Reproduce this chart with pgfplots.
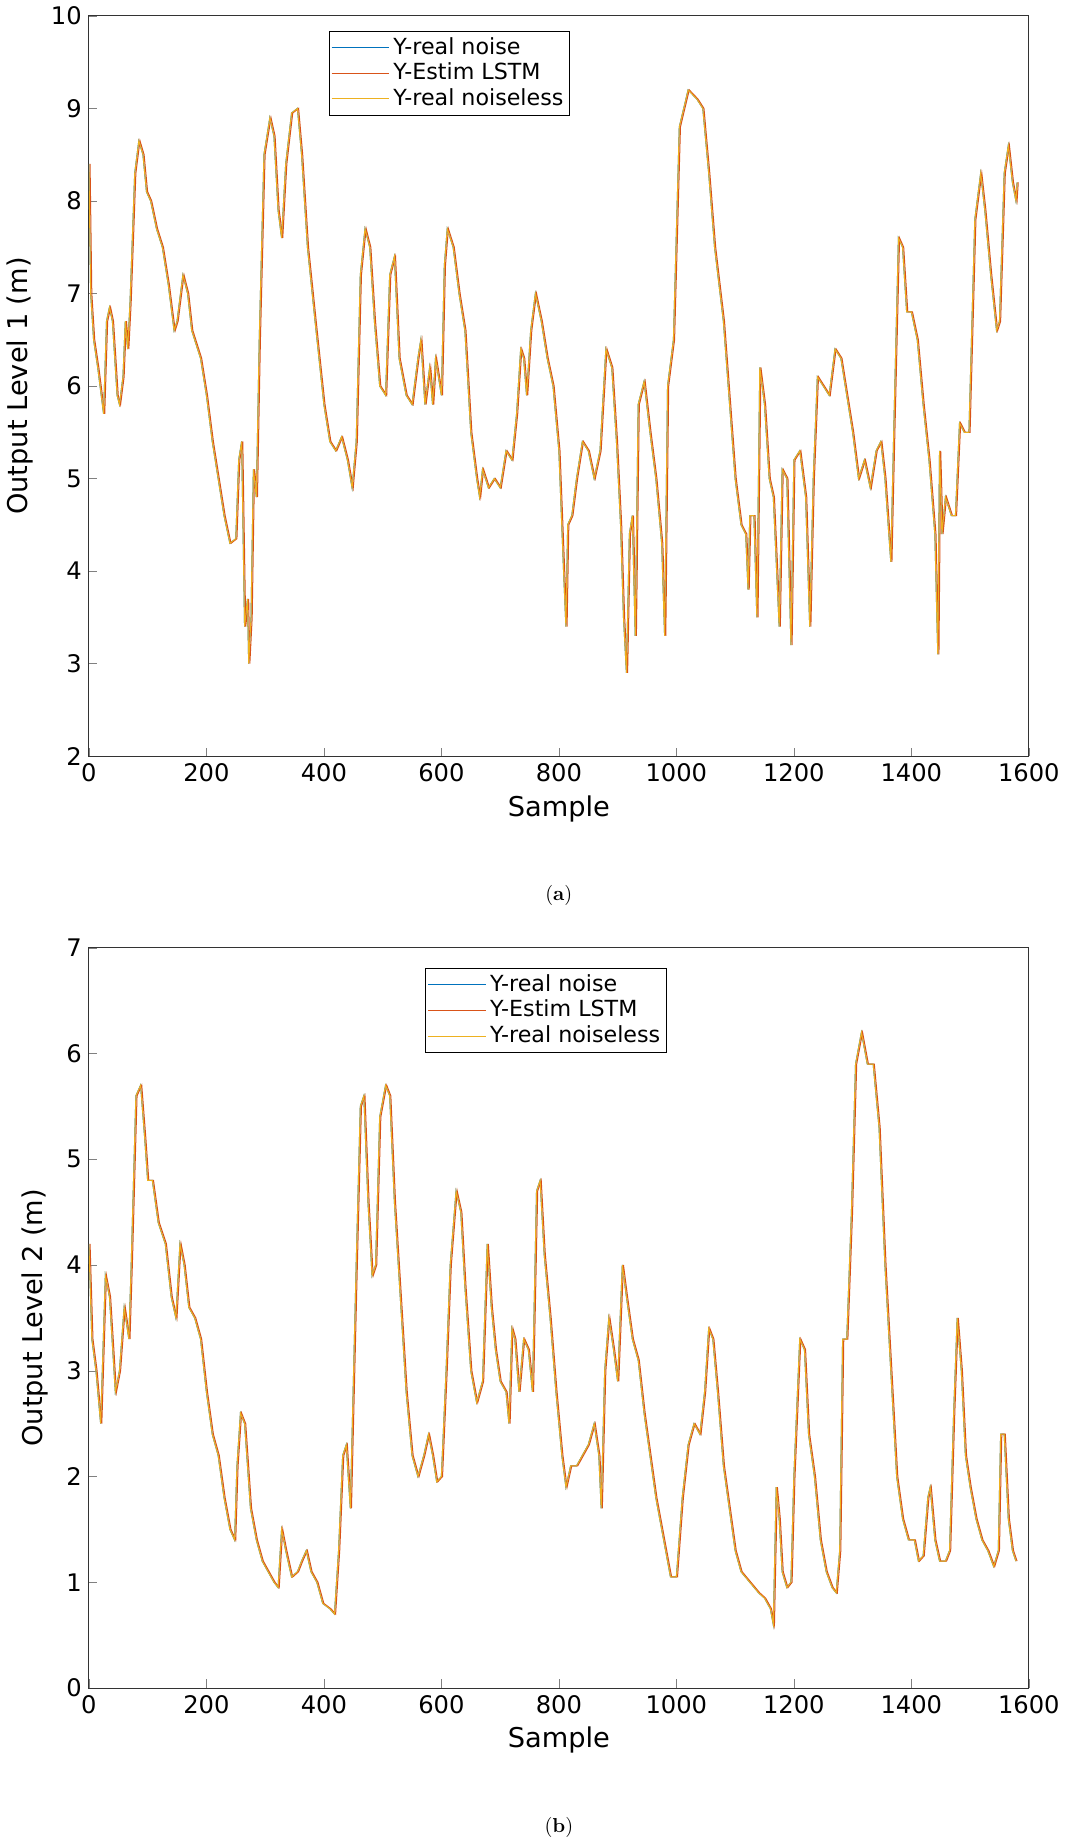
\documentclass[border=0pt]{standalone}
\usepackage{pgfplots}
\pgfplotsset{compat=1.18}
\usepackage{pgfplotstable}
\usepackage{fontspec}
\setmainfont{DejaVu Sans}
\newfontfamily\lmfont{Latin Modern Roman}
\definecolor{mblue}{RGB}{0,114,189}
\definecolor{mred}{RGB}{217,83,25}
\definecolor{myel}{RGB}{237,177,32}
\pgfplotstableread{
x y
0 8.4
3 7.0
8 6.5
15 6.2
25 5.7
30 6.7
35 6.85
40 6.7
48 5.9
52 5.8
58 6.1
62 6.7
66 6.4
70 6.9
78 8.3
85 8.65
92 8.5
98 8.1
105 8.0
115 7.7
125 7.5
135 7.1
145 6.6
150 6.7
160 7.2
168 7.0
175 6.6
190 6.3
200 5.9
210 5.4
220 5.0
230 4.6
240 4.3
250 4.35
255 5.2
260 5.4
265 3.4
270 3.7
272 3.0
276 3.5
280 5.1
285 4.8
290 6.5
298 8.5
308 8.9
315 8.7
322 7.9
328 7.6
335 8.4
345 8.95
355 9.0
362 8.5
372 7.5
385 6.7
400 5.8
410 5.4
420 5.3
430 5.45
440 5.2
448 4.9
455 5.4
462 7.2
470 7.7
478 7.5
486 6.7
495 6.0
505 5.9
512 7.2
520 7.4
528 6.3
540 5.9
550 5.8
560 6.3
565 6.5
572 5.8
580 6.2
585 5.8
590 6.3
600 5.9
605 7.3
610 7.7
620 7.5
630 7.0
640 6.6
650 5.5
660 5.0
665 4.8
670 5.1
680 4.9
690 5.0
700 4.9
710 5.3
720 5.2
728 5.7
735 6.4
740 6.3
745 5.9
752 6.6
760 7.0
770 6.7
780 6.3
790 6.0
800 5.3
808 4.0
812 3.4
815 4.5
822 4.6
830 5.0
840 5.4
850 5.3
860 5.0
870 5.3
880 6.4
890 6.2
898 5.4
905 4.5
910 3.5
915 2.9
920 4.4
925 4.6
930 3.3
935 5.8
945 6.05
955 5.5
965 5.0
975 4.3
980 3.3
985 6.0
995 6.5
1005 8.8
1020 9.2
1035 9.1
1045 9.0
1055 8.3
1065 7.5
1080 6.7
1100 5.0
1110 4.5
1118 4.4
1122 3.8
1125 4.6
1132 4.6
1137 3.5
1142 6.2
1150 5.8
1158 5.0
1165 4.8
1175 3.4
1180 5.1
1188 5.0
1195 3.2
1200 5.2
1210 5.3
1220 4.8
1227 3.4
1233 5.0
1240 6.1
1250 6.0
1260 5.9
1270 6.4
1280 6.3
1290 5.9
1300 5.5
1310 5.0
1320 5.2
1330 4.9
1340 5.3
1348 5.4
1355 5.0
1365 4.1
1370 5.5
1378 7.6
1385 7.5
1392 6.8
1400 6.8
1410 6.5
1420 5.8
1430 5.2
1440 4.4
1445 3.1
1448 5.3
1452 4.4
1458 4.8
1468 4.6
1475 4.6
1482 5.6
1490 5.5
1498 5.5
1508 7.8
1518 8.3
1525 7.9
1535 7.2
1545 6.6
1550 6.7
1558 8.3
1565 8.6
1572 8.2
1578 8.0
1580 8.2
}\dataA
\pgfplotstableread{
x y
0 4.2
5 3.3
12 3.0
20 2.5
28 3.9
35 3.7
45 2.8
52 3.0
60 3.6
68 3.3
72 4.0
80 5.6
88 5.7
95 5.2
100 4.8
108 4.8
118 4.4
130 4.2
140 3.7
148 3.5
155 4.2
162 4.0
170 3.6
180 3.5
190 3.3
200 2.8
210 2.4
220 2.2
230 1.8
240 1.5
248 1.4
252 2.1
258 2.6
265 2.5
275 1.7
285 1.4
295 1.2
305 1.1
315 1.0
322 0.95
328 1.5
335 1.3
345 1.05
355 1.1
362 1.2
370 1.3
378 1.1
388 1.0
398 0.8
410 0.75
418 0.7
425 1.3
432 2.2
438 2.3
445 1.7
455 4.0
462 5.5
468 5.6
475 4.6
482 3.9
488 4.0
495 5.4
505 5.7
512 5.6
520 4.6
530 3.7
540 2.8
550 2.2
560 2.0
570 2.2
578 2.4
585 2.2
592 1.95
600 2.0
608 3.0
615 4.0
625 4.7
633 4.5
640 3.8
650 3.0
660 2.7
670 2.9
678 4.2
685 3.6
692 3.2
700 2.9
710 2.8
715 2.5
720 3.4
725 3.3
732 2.8
740 3.3
748 3.2
755 2.8
762 4.7
768 4.8
775 4.1
785 3.5
795 2.8
805 2.2
812 1.9
820 2.1
830 2.1
840 2.2
850 2.3
860 2.5
868 2.2
872 1.7
878 3.0
885 3.5
893 3.2
900 2.9
908 4.0
915 3.7
925 3.3
935 3.1
945 2.6
955 2.2
965 1.8
975 1.5
985 1.2
990 1.05
1000 1.05
1010 1.8
1020 2.3
1030 2.5
1040 2.4
1048 2.8
1055 3.4
1062 3.3
1070 2.8
1080 2.1
1090 1.7
1100 1.3
1110 1.1
1125 1.0
1140 0.9
1150 0.85
1160 0.75
1165 0.6
1170 1.9
1175 1.6
1180 1.1
1188 0.95
1195 1.0
1200 2.0
1210 3.3
1218 3.2
1225 2.4
1235 2.0
1245 1.4
1255 1.1
1265 0.95
1272 0.9
1278 1.3
1283 3.3
1290 3.3
1298 4.5
1305 5.9
1315 6.2
1325 5.9
1335 5.9
1345 5.3
1355 4.0
1365 3.0
1375 2.0
1385 1.6
1395 1.4
1405 1.4
1412 1.2
1420 1.25
1428 1.8
1432 1.9
1440 1.4
1448 1.2
1458 1.2
1465 1.3
1472 2.6
1478 3.5
1485 3.0
1492 2.2
1500 1.9
1510 1.6
1520 1.4
1530 1.3
1540 1.15
1548 1.3
1552 2.4
1558 2.4
1565 1.6
1572 1.3
1578 1.2
}\dataB
\pgfplotsset{
  mystyle/.style={
    width=466pt, height=367pt, scale only axis,
    xmin=0, xmax=1600, xtick={0,200,...,1600},
    xlabel={Sample},
    tick label style={font=\fontsize{12}{14}\selectfont},
    label style={font=\fontsize{13.5}{16}\selectfont},
    /pgf/number format/assume math mode=true,
    /pgf/number format/set thousands separator={},
    ylabel style={yshift=2pt},
    tick align=inside,
    xtick pos=bottom, ytick pos=left,
    axis line style={black!80},
    legend style={font=\fontsize{11}{13}\selectfont, draw=black, rounded corners=0pt, cells={anchor=west}, inner sep=1pt, row sep=-1pt},
    legend image code/.code={\draw[#1] (0cm,0cm) -- (1.0cm,0cm);},
  }
}
\begin{document}
\begin{tikzpicture}
\begin{axis}[mystyle, name=A, at={(0,0)}, anchor=north west,
  ymin=2, ymax=10, ytick={2,...,10}, ylabel={Output Level 1 (m)},
  legend style={at={(0.255,0.98)}, anchor=north west}]
\addplot[mblue, line width=0.5pt] table {\dataA};
\addplot[mred, line width=0.5pt] table[x expr=\thisrow{x}+2] {\dataA};
\addplot[myel, line width=0.5pt] table {\dataA};
\legend{Y-real noise, Y-Estim LSTM, Y-real noiseless}
\end{axis}
\node[font=\lmfont\fontsize{10}{12}\selectfont] at (233pt,-436pt) {(\textbf{a})};
\begin{axis}[mystyle, name=B, at={(0,-462pt)}, anchor=north west,
  ymin=0, ymax=7, ytick={0,...,7}, ylabel={Output Level 2 (m)},
  legend style={at={(0.358,0.973)}, anchor=north west}]
\addplot[mblue, line width=0.5pt] table {\dataB};
\addplot[mred, line width=0.5pt] table[x expr=\thisrow{x}+2] {\dataB};
\addplot[myel, line width=0.5pt] table {\dataB};
\legend{Y-real noise, Y-Estim LSTM, Y-real noiseless}
\end{axis}
\node[font=\lmfont\fontsize{10}{12}\selectfont] at (233pt,-898pt) {(\textbf{b})};
\end{tikzpicture}
\end{document}
